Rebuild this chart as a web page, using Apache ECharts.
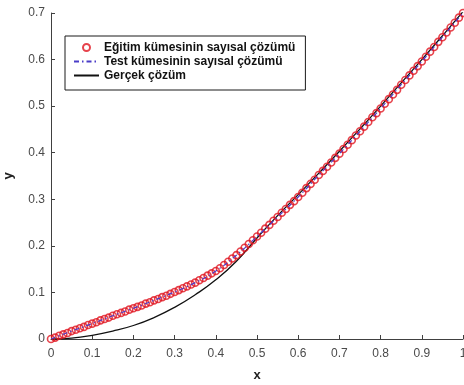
<!DOCTYPE html>
<html>
<head>
<meta charset="utf-8">
<script src="https://cdn.jsdelivr.net/npm/echarts@6/dist/echarts.min.js"></script>
<style>
  html, body { margin: 0; padding: 0; background: #ffffff; }
  #chart { width: 464px; height: 385px; }
</style>
</head>
<body>
<div id="chart"></div>
<script>
// Training-set numerical solution, sampled every 0.01 in x
const trainX = [
  0.00,0.01,0.02,0.03,0.04,0.05,0.06,0.07,0.08,0.09,
  0.10,0.11,0.12,0.13,0.14,0.15,0.16,0.17,0.18,0.19,
  0.20,0.21,0.22,0.23,0.24,0.25,0.26,0.27,0.28,0.29,
  0.30,0.31,0.32,0.33,0.34,0.35,0.36,0.37,0.38,0.39,
  0.40,0.41,0.42,0.43,0.44,0.45,0.46,0.47,0.48,0.49,
  0.50,0.51,0.52,0.53,0.54,0.55,0.56,0.57,0.58,0.59,
  0.60,0.61,0.62,0.63,0.64,0.65,0.66,0.67,0.68,0.69,
  0.70,0.71,0.72,0.73,0.74,0.75,0.76,0.77,0.78,0.79,
  0.80,0.81,0.82,0.83,0.84,0.85,0.86,0.87,0.88,0.89,
  0.90,0.91,0.92,0.93,0.94,0.95,0.96,0.97,0.98,0.99,1.00
];
const trainY = [
  0.000,0.003,0.007,0.010,0.013,0.017,0.020,0.023,0.026,0.030,
  0.033,0.036,0.040,0.043,0.046,0.050,0.053,0.056,0.059,0.063,
  0.066,0.069,0.072,0.076,0.079,0.083,0.086,0.090,0.093,0.097,
  0.101,0.105,0.109,0.113,0.117,0.121,0.126,0.131,0.136,0.141,
  0.146,0.152,0.159,0.166,0.173,0.180,0.188,0.196,0.204,0.212,
  0.220,0.228,0.237,0.245,0.254,0.262,0.271,0.279,0.288,0.296,
  0.305,0.314,0.324,0.333,0.342,0.352,0.361,0.370,0.379,0.389,
  0.398,0.408,0.417,0.427,0.437,0.446,0.456,0.466,0.476,0.485,
  0.495,0.505,0.515,0.525,0.535,0.546,0.556,0.566,0.576,0.586,
  0.596,0.606,0.617,0.627,0.638,0.648,0.658,0.669,0.679,0.690,0.700
];

// Test-set numerical solution
const testX = [0.00,0.05,0.10,0.15,0.20,0.25,0.30,0.35,0.40,0.45,0.50,
               0.55,0.60,0.65,0.70,0.75,0.80,0.85,0.90,0.95,1.00];
const testY = [0.000,0.017,0.033,0.050,0.066,0.083,0.101,0.121,0.146,0.180,0.220,
               0.262,0.305,0.352,0.398,0.446,0.495,0.546,0.596,0.648,0.700];

// Exact solution
const exactX = [0.00,0.05,0.10,0.15,0.20,0.25,0.30,0.35,0.40,0.45,0.50,
                0.55,0.60,0.65,0.70,0.75,0.80,0.85,0.90,0.95,1.00];
const exactY = [0.000,0.002,0.008,0.017,0.029,0.046,0.068,0.095,0.127,0.167,0.217,
                0.265,0.310,0.356,0.403,0.451,0.500,0.550,0.600,0.651,0.703];

const seriesNames = ['Eğitim kümesinin sayısal çözümü',
                     'Test kümesinin sayısal çözümü',
                     'Gerçek çözüm'];

const zip = (xs, ys) => xs.map((x, i) => [x, ys[i]]);

const FONT = "'Liberation Sans', Arial, sans-serif";
const AXIS_COLOR = '#404040';
const RED = '#e0141f';
const BLUE = '#4a3cc8';

const chart = echarts.init(document.getElementById('chart'), null, { renderer: 'canvas' });

chart.setOption({
  animation: false,
  backgroundColor: '#ffffff',
  grid: { left: 51, right: 1, top: 13, bottom: 46, containLabel: false, outerBoundsMode: 'none' },
  legend: {
    orient: 'vertical',
    left: 65,
    top: 36,
    padding: [5, 10, 8, 8],
    itemGap: 1,
    itemWidth: 25,
    itemHeight: 7,
    backgroundColor: '#ffffff',
    borderColor: '#1a1a1a',
    borderWidth: 1,
    textStyle: { fontFamily: FONT, fontSize: 12, fontWeight: 'bold', color: '#111111', lineHeight: 13 },
    data: [
      { name: seriesNames[0], icon: 'circle',
        itemStyle: { color: 'rgba(0,0,0,0)', borderColor: RED, borderWidth: 2 } },
      { name: seriesNames[1], itemStyle: { opacity: 0 } },
      { name: seriesNames[2], itemStyle: { opacity: 0 } }
    ]
  },
  xAxis: {
    type: 'value',
    min: 0, max: 1, interval: 0.1,
    name: 'x',
    nameLocation: 'middle',
    nameGap: 30,
    nameMoveOverlap: false,
    nameTextStyle: { fontFamily: FONT, fontSize: 13, fontWeight: 'bold', color: '#222222' },
    axisLine: { show: true, lineStyle: { color: AXIS_COLOR, width: 1 } },
    axisTick: { show: true, inside: true, length: 4, lineStyle: { color: AXIS_COLOR } },
    axisLabel: { fontFamily: FONT, fontSize: 12, color: '#4a4a4a', margin: 9 },
    splitLine: { show: false }
  },
  yAxis: {
    type: 'value',
    min: 0, max: 0.7, interval: 0.1,
    name: 'y',
    nameLocation: 'middle',
    nameGap: 36,
    nameMoveOverlap: false,
    nameRotate: 90,
    nameTextStyle: { fontFamily: FONT, fontSize: 13, fontWeight: 'bold', color: '#222222' },
    axisLine: { show: true, lineStyle: { color: AXIS_COLOR, width: 1 } },
    axisTick: { show: true, inside: true, length: 4, lineStyle: { color: AXIS_COLOR } },
    axisLabel: { fontFamily: FONT, fontSize: 12, color: '#4a4a4a', margin: 6 },
    splitLine: { show: false }
  },
  series: [
    {
      name: seriesNames[2],
      type: 'line',
      data: zip(exactX, exactY),
      smooth: true,
      showSymbol: false,
      symbol: 'none',
      z: 2,
      lineStyle: { color: '#111111', width: 1.3 },
      itemStyle: { color: '#111111' }
    },
    {
      name: seriesNames[0],
      type: 'scatter',
      data: zip(trainX, trainY),
      symbol: 'circle',
      symbolSize: 7,
      z: 3,
      itemStyle: { color: 'rgba(0,0,0,0)', borderColor: RED, borderWidth: 1.6 }
    },
    {
      name: seriesNames[1],
      type: 'line',
      data: zip(testX, testY),
      smooth: true,
      showSymbol: false,
      symbol: 'none',
      z: 4,
      lineStyle: { color: BLUE, width: 1.2, type: [5, 3, 1.5, 3] },
      itemStyle: { color: BLUE }
    }
  ]
});
</script>
</body>
</html>
